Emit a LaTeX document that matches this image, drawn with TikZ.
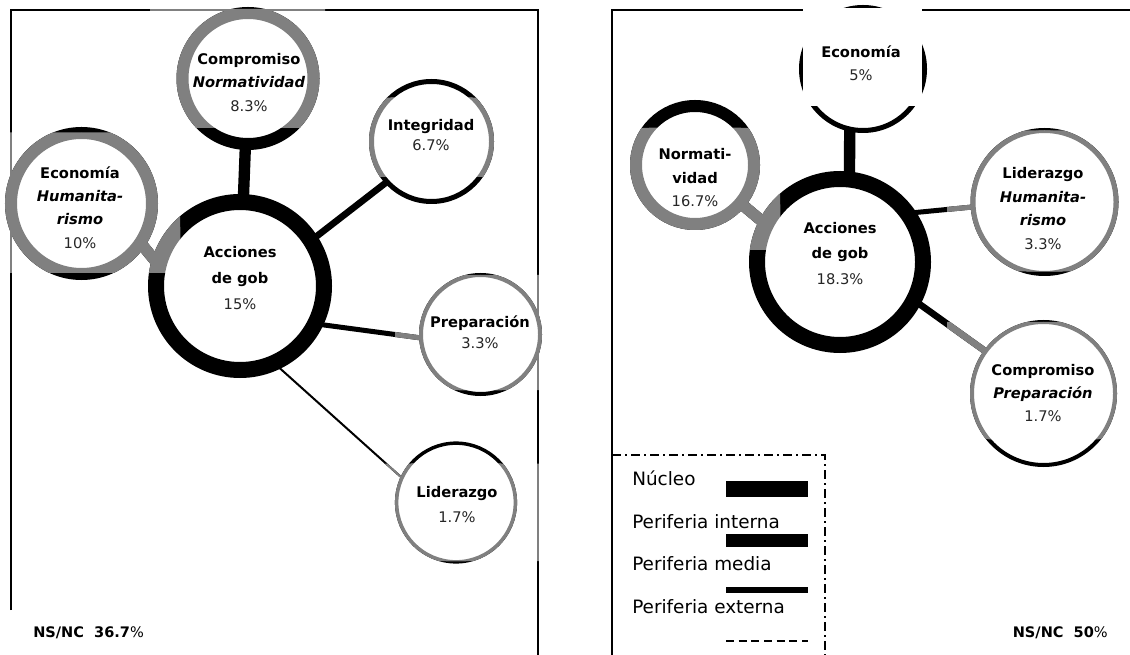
\documentclass[tikz,border=0pt]{standalone}
\usepackage{fontspec}
\setmainfont{DejaVu Sans}
\usetikzlibrary{backgrounds}

\definecolor{banda}{HTML}{808080}
\newcommand{\pcent}[1]{{\color{black!85}#1}}

\tikzset{
  ring/.style={circle, fill=white, inner sep=0pt},
  frame/.style={line width=1.2pt},
  interna/.style={line width=8.5pt},
  media/.style={line width=5pt},
  leve/.style={line width=3.75pt},
  externa/.style={line width=1.5pt},
  reach/.style={shorten <=-6pt, shorten >=-6pt},
  txt/.style={align=center, font=\fontsize{11}{17.6}\selectfont},
  txttight/.style={txt, font=\fontsize{11}{15.4}\selectfont},
  txtloose/.style={txt, font=\fontsize{11}{19.4}\selectfont},
  key/.style={anchor=base west, inner sep=0pt, font=\fontsize{13.8}{16}\selectfont},
  nsnc/.style={inner sep=0pt, font=\fontsize{10.9}{13}\selectfont},
  leyenda/.style={line width=1.1pt, dash pattern=on 6.75pt off 3pt on 1.5pt off 3pt}
}

% bubbles of both panels, drawn in colour #1
\newcommand{\bubbles}[1]{%
  \node[ring, draw=#1, line width=12pt, minimum size=126pt] (accL) at (240,286) {};
  \node[ring, draw=#1, line width=9pt, minimum size=98.25pt] (compL) at (248,78.5) {};
  \node[ring, draw=#1, line width=9pt, minimum size=105.75pt] (ecoL) at (81.5,203.5) {};
  \node[ring, draw=#1, line width=3.75pt, minimum size=90pt] (integL) at (431.5,141.5) {};
  \node[ring, draw=#1, line width=3pt, minimum size=89.25pt] (prepL) at (480.5,334.5) {};
  \node[ring, draw=#1, line width=2.6pt, minimum size=89pt] (lidL) at (456,502.5) {};
  \node[ring, draw=#1, line width=12pt, minimum size=124.5pt] (accR) at (840,262) {};
  \node[ring, draw=#1, line width=3.75pt, minimum size=92.25pt] (ecoR) at (863,69) {};
  \node[ring, draw=#1, line width=9pt, minimum size=88.5pt] (normR) at (695,165) {};
  \node[ring, draw=#1, line width=3.75pt, minimum size=107.25pt] (lidR) at (1044.5,202) {};
  \node[ring, draw=#1, line width=3pt, minimum size=107.25pt] (compR) at (1043.5,393.5) {};
}

% links to the central bubble
\newcommand{\links}[1]{%
  \draw[interna, #1] (compL.center) -- (accL.center);
  \draw[interna, reach, #1] (ecoL.-35) -- (accL.162);
  \draw[media, reach, #1] (integL.222) -- (accL.33);
  \draw[leve, reach, #1] (prepL.183) -- (accL.-25);
  \draw[externa, reach, #1] (lidL.155) -- (accL.-64);
  \draw[interna, reach, #1] (ecoR.258) -- (accR.84);
  \draw[interna, reach, #1] (normR.-40) -- (accR.152);
  \draw[leve, reach, #1] (lidR.184) -- (accR.33);
  \draw[media, reach, #1] (compR.144) -- (accR.-28);
}

\newcommand{\frames}[1]{%
  \draw[frame, #1] (11,610) -- (11,10) -- (538,10) -- (538,655);
  \draw[frame, #1] (612,655) -- (612,10) -- (1130,10);
}

\begin{document}
\begin{tikzpicture}[x=0.75pt, y=-0.75pt]
  \useasboundingbox (0,0) rectangle (1130,655);

  \bubbles{black}
  \begin{scope}[on background layer]
    \frames{black}
    \links{black}
  \end{scope}

  % grey strips
  \begin{scope}
    \clip (150,9) rectangle (325,128)
          (0,132.5) rectangle (180,273)
          (360,97.6) rectangle (505,177)
          (395,275) rectangle (560,390)
          (385,463.5) rectangle (560,561)
          (618,128) rectangle (780,250)
          (947,130.5) rectangle (1130,271.5)
          (947,322) rectangle (1130,439);
    \frames{banda}
    \links{banda}
    \bubbles{banda}
  \end{scope}

  \fill[white] (803,8) rectangle (922,106);

  % left panel
  \node[txt] (compL-t) at (249,82.5)
    {\textbf{Compromiso}\\\textbf{\textit{Normatividad}}\\\pcent{8.3\%}};
  \node[txt] (ecoL-t) at (80,207.5)
    {\textbf{Economía}\\\textbf{\textit{Humanita-}}\\\textbf{\textit{rismo}}\\\pcent{10\%}};
  \node[txtloose] (accL-t) at (240,278)
    {\textbf{Acciones}\\\textbf{de gob}\\\pcent{15\%}};
  \node[txttight] (integL-t) at (431,135) {\textbf{Integridad}\\\pcent{6.7\%}};
  \node[txttight] (prepL-t) at (480,332.5) {\textbf{Preparación}\\\pcent{3.3\%}};
  \node[txtloose] (lidL-t) at (457,504.5) {\textbf{Liderazgo}\\\pcent{1.7\%}};
  \node[nsnc, anchor=base west] (nsL) at (33,637) {\textbf{NS/NC\ \ 36.7}\%};

  % right panel
  \node[txt] (ecoR-t) at (861,63) {\textbf{Economía}\\\pcent{5\%}};
  \node[txt] (normR-t) at (695,178)
    {\textbf{Normati-}\\\textbf{vidad}\\\pcent{16.7\%}};
  \node[txtloose] (accR-t) at (840,253.5)
    {\textbf{Acciones}\\\textbf{de gob}\\\pcent{18.3\%}};
  \node[txt] (lidR-t) at (1043,208.5)
    {\textbf{Liderazgo}\\\textbf{\textit{Humanita-}}\\\textbf{\textit{rismo}}\\\pcent{3.3\%}};
  \node[txt] (compR-t) at (1043,393)
    {\textbf{Compromiso}\\\textbf{\textit{Preparación}}\\\pcent{1.7\%}};
  \node[nsnc, anchor=base east] (nsR) at (1108,637) {\textbf{NS/NC\ \ 50}\%};

  % legend
  \draw[leyenda] (612,455) -- (825,455) -- (825,655);
  \node[key] (kNucleo) at (632,485) {Núcleo};
  \node[key] (kInterna) at (632,528) {Periferia interna};
  \node[key] (kMedia) at (632,570) {Periferia media};
  \node[key] (kExterna) at (632,613) {Periferia externa};
  \draw[line width=12pt] (726,489) -- (808,489);
  \draw[line width=9.75pt] (726,540) -- (808,540);
  \draw[line width=4.5pt] (726,590) -- (808,590);
  \draw[externa, dash pattern=on 6pt off 3.5pt] (726,641) -- (808,641);
\end{tikzpicture}
\end{document}
